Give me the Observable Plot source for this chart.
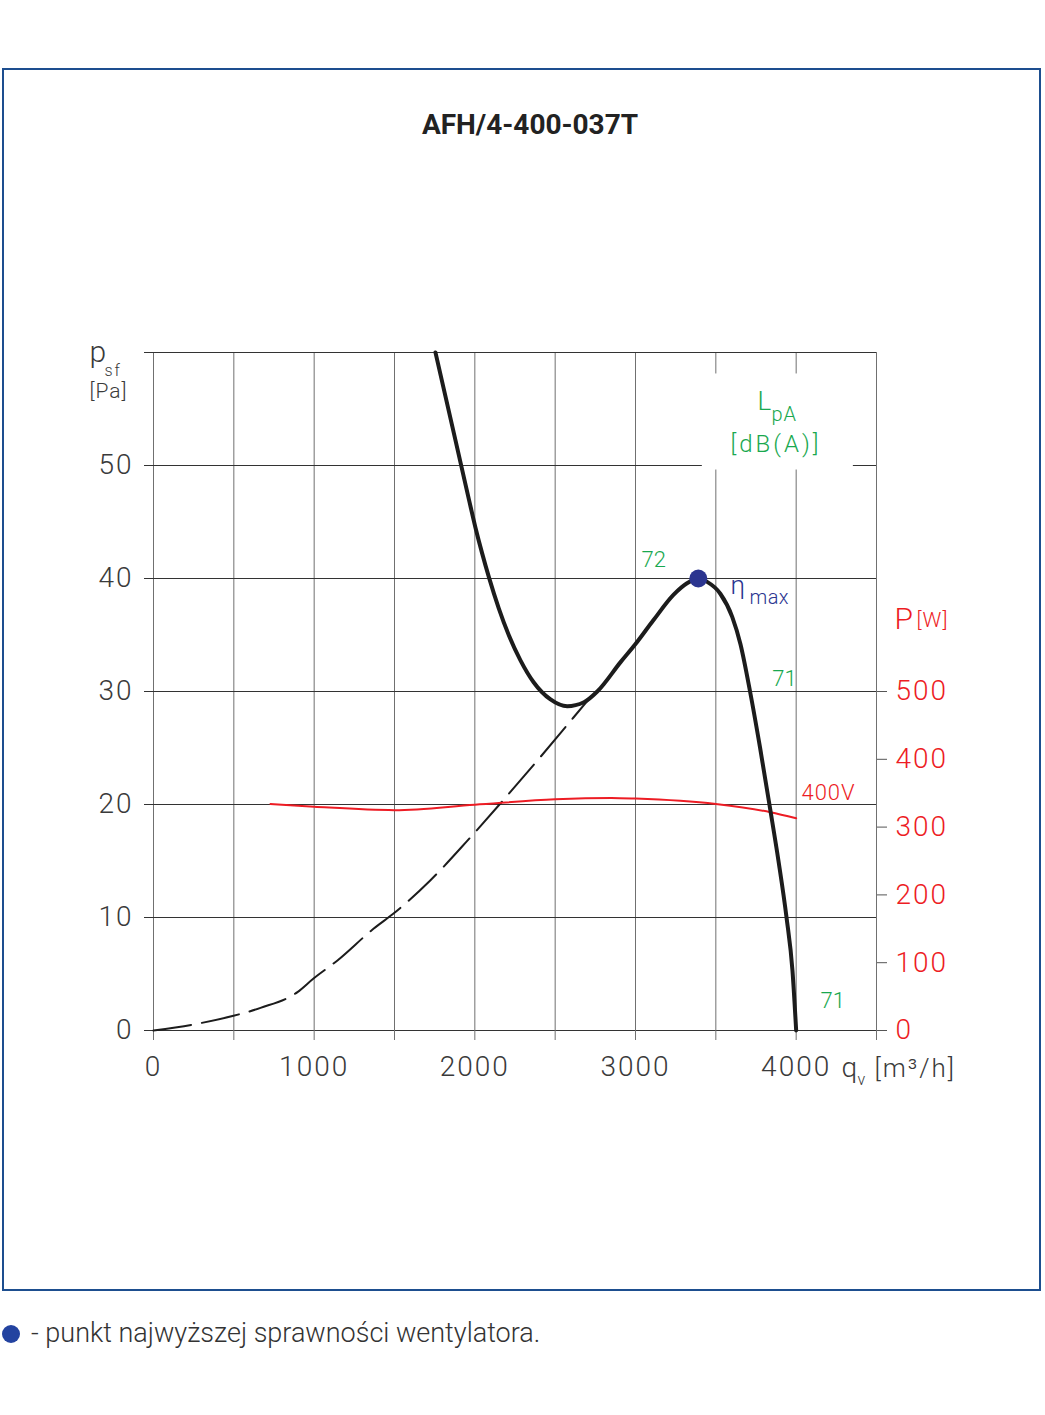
<!DOCTYPE html>
<html>
<head>
<meta charset="utf-8">
<script src="https://cdn.jsdelivr.net/npm/d3@7"></script>
<script src="https://cdn.jsdelivr.net/npm/@observablehq/plot@0.6"></script>
<style>
  html, body { margin: 0; padding: 0; background: #fff; overflow: hidden; }
  #wrap { position: relative; width: 1045px; height: 1415px; font-family: Roboto, "Open Sans", sans-serif; }
  #frame { position: absolute; left: 2px; top: 68px; width: 1039px; height: 1223px; box-sizing: border-box; border: 2px solid #1d4e8f; }
  #chart { position: absolute; left: 0; top: 0; }
  #bdot { position: absolute; left: 2px; top: 1325px; width: 18px; height: 18px; border-radius: 50%; background: #2343a0; }
  #foot { position: absolute; left: 31px; top: 1320px; font-size: 27px; line-height: 27px; font-weight: 300; color: #333; white-space: nowrap; }
</style>
</head>
<body>
<div id="wrap">
  <div id="frame"></div>
  <div id="chart"></div>
  <div id="bdot"></div>
  <div id="foot">- punkt najwyższej sprawności wentylatora.</div>
</div>
<script>
// ---- data ----
const title = "AFH/4-400-037T";

// fan characteristic p_sf [Pa] vs q_v [m3/h]
const fanQ = [1755, 1880, 1963, 2004, 2046, 2087, 2149, 2211, 2284, 2367, 2471, 2575, 2679, 2762, 2907, 3000, 3111, 3236, 3323, 3391, 3446, 3528, 3602, 3653, 3713, 3775, 3837, 3890, 3940, 3977, 4000];
const fanP = [60, 52.2, 47.0, 44.5, 42.2, 40.14, 37.36, 35.0, 32.76, 30.8, 29.3, 28.7, 29.05, 30.0, 32.6, 34.2, 36.3, 38.55, 39.6, 40, 39.7, 38.65, 36.6, 34.2, 30.0, 25.05, 19.7, 15.0, 10.0, 5.3, 0];

// system curve (dashed)
const sysQ = [0, 274, 498, 666, 896, 996, 1145, 1369, 1494, 1724, 1954, 2178, 2390, 2614, 2720];
const sysP = [0, 0.6, 1.3, 2.0, 3.4, 4.6, 6.2, 9.0, 10.35, 13.3, 16.8, 20.4, 23.9, 27.7, 29.5];

// power consumption P [W], 400V
const powQ = [728, 1000, 1500, 2000, 2500, 2850, 3000, 3500, 3840, 4000];
const powW = [334, 330, 325, 333, 341, 343, 342, 334, 322, 313];

// max efficiency point
const etaQ = 3391;
const etaP = 40;

// ticks
const xTicks = [0, 500, 1000, 1500, 2000, 2500, 3000, 3500, 4000, 4500];
const yTicks = [0, 10, 20, 30, 40, 50, 60];
const pTicks = [0, 100, 200, 300, 400, 500];

// secondary axis: 1000 W spans 60 Pa
const W2PA = 60 / 1000;

const GREEN = "#19a84f";
const RED = "#ed1c24";
const BLUE = "#2b3590";
const INK = "#3a3a3a";

const fan = fanQ.map((q, i) => ({q, p: fanP[i]}));
const sys = sysQ.map((q, i) => ({q, p: sysP[i]}));
const pow = powQ.map((q, i) => ({q, w: powW[i]}));

const chart = Plot.plot({
  width: 1045,
  height: 1110,
  marginLeft: 153,
  marginRight: 169,
  marginTop: 352,
  marginBottom: 80,
  style: "font-family: Roboto, 'Open Sans', sans-serif; font-weight: 300; letter-spacing: 2px; background: transparent; overflow: visible;",
  x: {domain: [0, 4500]},
  y: {domain: [0, 60]},
  marks: [
    Plot.gridX(xTicks, {stroke: "#707070", strokeOpacity: 1}),
    Plot.gridY(yTicks, {stroke: "#333", strokeOpacity: 1}),
    Plot.axisX(xTicks, {tickSize: 10, tickPadding: 16, fontSize: 28, stroke: "#707070", fill: INK, label: null,
      tickFormat: d => (d % 1000 === 0 && d <= 4000) ? String(d) : ""}),
    Plot.axisY(yTicks, {anchor: "left", tickSize: 9, tickPadding: 11, fontSize: 28, stroke: "#333", fill: INK, label: null,
      tickFormat: d => d === 60 ? "" : String(d)}),
    Plot.axisY(pTicks.map(w => w * W2PA), {anchor: "right", tickSize: 10, tickPadding: 9, fontSize: 28, stroke: "#555", fill: RED, label: null,
      tickFormat: d => String(Math.round(d / W2PA))}),
    // white box behind the LpA label
    Plot.rect([0], {x1: 3416, x2: 4356, y1: 49.6, y2: 58.1, fill: "white"}),
    // curves
    Plot.line(sys, {x: "q", y: "p", curve: "monotone-x", stroke: "#1c1c1c", strokeWidth: 2, strokeDasharray: "38,11"}),
    Plot.line(pow, {x: "q", y: d => d.w * W2PA, curve: "monotone-x", stroke: RED, strokeWidth: 2}),
    Plot.line(fan, {x: "q", y: "p", curve: "monotone-x", stroke: "#1c1c1c", strokeWidth: 4}),
    Plot.dot([{q: etaQ, p: etaP}], {x: "q", y: "p", r: 9, fill: BLUE}),
    // title
    Plot.text([title], {frameAnchor: "top", dx: 15, dy: -219, lineAnchor: "bottom", fontSize: 28, fontWeight: 700, fill: "#222"}),
    // y axis label
    Plot.text(["p"], {frameAnchor: "top-left", dx: -64, dy: 9, textAnchor: "start", lineAnchor: "bottom", fontSize: 30, fill: INK}),
    Plot.text(["sf"], {frameAnchor: "top-left", dx: -49, dy: 23, textAnchor: "start", lineAnchor: "bottom", fontSize: 16, fill: INK}),
    Plot.text(["[Pa]"], {frameAnchor: "top-left", dx: -64, dy: 45, textAnchor: "start", lineAnchor: "bottom", fontSize: 21, fill: INK}),
    // right axis label
    Plot.text(["P"], {frameAnchor: "top-right", dx: 18, dy: 276, textAnchor: "start", lineAnchor: "bottom", fontSize: 30, fill: RED}),
    Plot.text(["[W]"], {frameAnchor: "top-right", dx: 40, dy: 274, textAnchor: "start", lineAnchor: "bottom", fontSize: 21, fill: RED}),
    // x axis label
    Plot.text(["q"], {frameAnchor: "bottom-right", dx: -35, dy: 46, textAnchor: "start", lineAnchor: "bottom", fontSize: 28, fill: INK}),
    Plot.text(["v"], {frameAnchor: "bottom-right", dx: -19, dy: 54, textAnchor: "start", lineAnchor: "bottom", fontSize: 16, fill: INK}),
    Plot.text(["[m³/h]"], {frameAnchor: "bottom-right", dx: -2, dy: 46, textAnchor: "start", lineAnchor: "bottom", fontSize: 26, fill: INK}),
    // LpA label
    Plot.text(["L"], {x: 3760, y: 54.87, textAnchor: "start", lineAnchor: "bottom", fontSize: 26, fill: GREEN}),
    Plot.text(["pA"], {x: 3846, y: 53.9, textAnchor: "start", lineAnchor: "bottom", fontSize: 20, fill: GREEN}),
    Plot.text(["[dB(A)]"], {x: 3591, y: 51.2, textAnchor: "start", lineAnchor: "bottom", fontSize: 24, fill: GREEN}),
    // sound levels
    Plot.text(["72"], {x: 3037, y: 41.06, textAnchor: "start", lineAnchor: "bottom", fontSize: 22, fill: GREEN}),
    Plot.text(["71"], {x: 3851, y: 30.53, textAnchor: "start", lineAnchor: "bottom", fontSize: 22, fill: GREEN}),
    Plot.text(["71"], {x: 4151, y: 1.95, textAnchor: "start", lineAnchor: "bottom", fontSize: 22, fill: GREEN}),
    // eta max
    Plot.text(["η"], {x: 3591, y: 38.6, textAnchor: "start", lineAnchor: "bottom", fontSize: 26, fill: BLUE}),
    Plot.text(["max"], {x: 3709, y: 37.7, textAnchor: "start", lineAnchor: "bottom", fontSize: 20, fill: BLUE}),
    // voltage label
    Plot.text(["400V"], {x: 4033, y: 20.44, textAnchor: "start", lineAnchor: "bottom", fontSize: 22, fill: RED})
  ]
});

document.getElementById("chart").appendChild(chart);

const setLS = (txt, ls) => d3.select(chart).selectAll("text")
  .filter(function() { return this.textContent === txt; })
  .style("letter-spacing", ls);
setLS(title, "0px");
setLS("[dB(A)]", "3px");
setLS("72", "0px");
setLS("71", "0px");
setLS("400V", "1px");
setLS("max", "0.5px");
setLS("[m³/h]", "2px");
setLS("pA", "1px");
setLS("[Pa]", "1px");
setLS("[W]", "1px");
</script>
</body>
</html>
